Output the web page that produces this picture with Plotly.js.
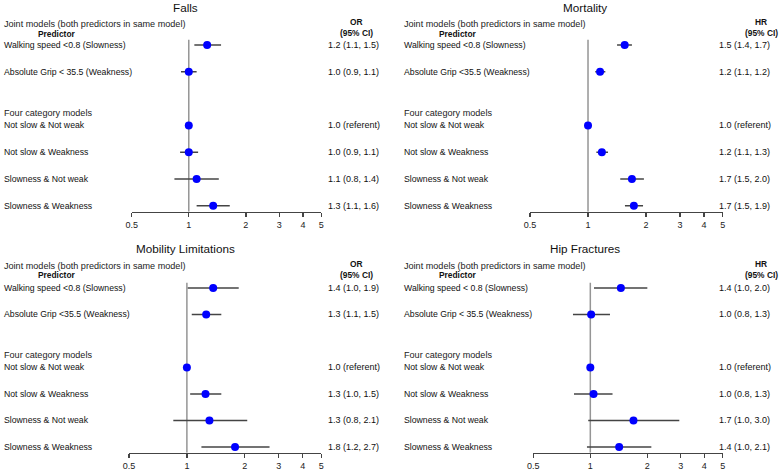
<!DOCTYPE html>
<html>
<head>
<meta charset="utf-8">
<script src="https://cdn.plot.ly/plotly-3.0.1.min.js"></script>
<style>html,body{margin:0;padding:0;background:#fff;}#chart{width:780px;height:473px;}</style>
</head>
<body>
<div id="chart"></div>
<script>
// ---------- data ----------
const fourCategories = ["Not slow & Not weak", "Not slow & Weakness", "Slowness & Not weak", "Slowness & Weakness"];

const fallsJoint = ["Walking speed <0.8 (Slowness)", "Absolute Grip < 35.5 (Weakness)"];
const fallsEst = [1.25, 1.00, 1.00, 1.00, 1.10, 1.345];
const fallsLo  = [1.07, 0.91, 1.00, 0.90, 0.84, 1.10];
const fallsHi  = [1.48, 1.10, 1.00, 1.12, 1.44, 1.645];
const fallsText = ["1.2 (1.1, 1.5)", "1.0 (0.9, 1.1)", "1.0 (referent)", "1.0 (0.9, 1.1)", "1.1 (0.8, 1.4)", "1.3 (1.1, 1.6)"];

const mortJoint = ["Walking speed <0.8 (Slowness)", "Absolute Grip <35.5 (Weakness)"];
const mortEst = [1.55, 1.155, 1.00, 1.18, 1.69, 1.73];
const mortLo  = [1.415, 1.09, 1.00, 1.105, 1.47, 1.555];
const mortHi  = [1.69, 1.23, 1.00, 1.27, 1.95, 1.93];
const mortText = ["1.5 (1.4, 1.7)", "1.2 (1.1, 1.2)", "1.0 (referent)", "1.2 (1.1, 1.3)", "1.7 (1.5, 2.0)", "1.7 (1.5, 1.9)"];

const mobJoint = ["Walking speed <0.8 (Slowness)", "Absolute Grip <35.5 (Weakness)"];
const mobEst = [1.37, 1.26, 1.00, 1.25, 1.31, 1.78];
const mobLo  = [1.01, 1.06, 1.00, 1.04, 0.85, 1.19];
const mobHi  = [1.86, 1.51, 1.00, 1.51, 2.06, 2.69];
const mobText = ["1.4 (1.0, 1.9)", "1.3 (1.1, 1.5)", "1.0 (referent)", "1.3 (1.0, 1.5)", "1.3 (0.8, 2.1)", "1.8 (1.2, 2.7)"];

const hipJoint = ["Walking speed < 0.8 (Slowness)", "Absolute Grip < 35.5 (Weakness)"];
const hipEst = [1.45, 1.01, 1.00, 1.04, 1.69, 1.42];
const hipLo  = [1.046, 0.81, 1.00, 0.82, 0.975, 0.96];
const hipHi  = [2.00, 1.27, 1.00, 1.31, 2.95, 2.10];
const hipText = ["1.4 (1.0, 2.0)", "1.0 (0.8, 1.3)", "1.0 (referent)", "1.0 (0.8, 1.3)", "1.7 (1.0, 3.0)", "1.4 (1.0, 2.1)"];

const tickValues = [0.5, 1, 2, 3, 4, 5];
const tickLabels = ["0.5", "1", "2", "3", "4", "5"];

// ---------- layout helpers ----------
const FONT = "Liberation Sans, Arial, Helvetica, sans-serif";
const W = 780, H = 473;
const px = v => v / W;
const py = v => 1 - v / H;

const panels = [
  {title: "Falls", stat: "OR", joint: fallsJoint, est: fallsEst, lo: fallsLo, hi: fallsHi, txt: fallsText,
   id: "", xdom: [131.7, 321.3], ydom: [211.7, 31.6], left: 2, pred: 57, val: 326, statX: 356, titleX: 185, top: 0},
  {title: "Mortality", stat: "HR", joint: mortJoint, est: mortEst, lo: mortLo, hi: mortHi, txt: mortText,
   id: "2", xdom: [530, 722.7], ydom: [211.7, 31.6], left: 402, pred: 458, val: 717, statX: 761, titleX: 585, top: 0},
  {title: "Mobility Limitations", stat: "OR", joint: mobJoint, est: mobEst, lo: mobLo, hi: mobHi, txt: mobText,
   id: "3", xdom: [129, 321.3], ydom: [452.8, 274.75], left: 2, pred: 57, val: 326, statX: 356, titleX: 185, top: 241.5},
  {title: "Hip Fractures", stat: "HR", joint: hipJoint, est: hipEst, lo: hipLo, hi: hipHi, txt: hipText,
   id: "4", xdom: [533.3, 722.7], ydom: [452.8, 274.75], left: 402, pred: 458, val: 717, statX: 761, titleX: 585, top: 241.5}
];

const data = [];
const layout = {
  width: W, height: H,
  margin: {l: 0, r: 0, t: 0, b: 0},
  paper_bgcolor: "#ffffff", plot_bgcolor: "#ffffff",
  showlegend: false,
  font: {family: FONT, color: "#111"},
  annotations: [], shapes: []
};

panels.forEach(p => {
  const xa = "x" + p.id, ya = "y" + p.id;
  const xkey = "xaxis" + p.id, ykey = "yaxis" + p.id;
  const rows = p.joint.concat(fourCategories);
  const order = [p.joint[0], p.joint[1], " "].concat(fourCategories);

  data.push({
    type: "scatter", mode: "markers",
    x: p.est, y: rows,
    xaxis: xa, yaxis: ya,
    marker: {color: "#0000ff", size: 8},
    error_x: {
      type: "data", symmetric: false,
      array: p.hi.map((h, i) => h - p.est[i]),
      arrayminus: p.lo.map((l, i) => p.est[i] - l),
      color: "#444444", thickness: 1.6, width: 0
    },
    hoverinfo: "skip", cliponaxis: false
  });

  layout[xkey] = {
    type: "log", domain: [px(p.xdom[0]), px(p.xdom[1])],
    range: [Math.log10(0.5), Math.log10(5)], autorange: false,
    anchor: ya, showgrid: false, zeroline: false,
    showline: true, linecolor: "#444", linewidth: 1.5,
    ticks: "outside", ticklen: 4, tickwidth: 1.3, tickcolor: "#444",
    tickmode: "array", tickvals: tickValues, ticktext: tickLabels,
    tickfont: {family: FONT, size: 9, color: "#222"}
  };
  layout[ykey] = {
    type: "category", categoryorder: "array", categoryarray: order,
    domain: [1 - p.ydom[0] / H, 1 - p.ydom[1] / H],
    range: [6.22, -0.5], autorange: false, anchor: xa,
    showgrid: false, zeroline: false, showline: false,
    showticklabels: false, ticks: ""
  };

  // reference line at 1
  layout.shapes.push({
    type: "line", layer: "below", xref: xa, yref: ya,
    x0: 1, x1: 1, y0: -0.2, y1: 6.22,
    line: {color: "#959595", width: 1.5}
  });

  const ann = (o) => layout.annotations.push(Object.assign({showarrow: false, yref: ya, xref: "paper"}, o));
  const annP = (o) => layout.annotations.push(Object.assign({showarrow: false, yref: "paper", xref: "paper"}, o));
  annP({text: p.title, x: px(p.titleX), y: py(p.top + 7.5), xanchor: "center", yanchor: "middle",
       font: {family: FONT, size: 11.7, color: "#111"}});
  annP({text: "Joint models (both predictors in same model)", x: px(p.left), y: py(p.top + 24.3), xanchor: "left", yanchor: "middle",
       font: {family: FONT, size: 9.1, color: "#222"}});
  annP({text: "<b>Predictor</b>", x: px(p.pred), y: py(p.top + 33.5), xanchor: "center", yanchor: "middle",
       font: {family: FONT, size: 8.4, color: "#111"}});
  annP({text: "<b>" + p.stat + "</b>", x: px(p.statX), y: py(p.top + 22), xanchor: "center", yanchor: "middle",
       font: {family: FONT, size: 8.4, color: "#111"}});
  annP({text: "<b>(95% CI)</b>", x: px(p.statX), y: py(p.top + 33), xanchor: "center", yanchor: "middle",
       font: {family: FONT, size: 8.4, color: "#111"}});
  ann({text: "Four category models", x: px(p.left), y: 2.54, xanchor: "left", yanchor: "middle",
       font: {family: FONT, size: 9.1, color: "#222"}});
  rows.forEach((r, i) => {
    ann({text: r, x: px(p.left), y: r, xanchor: "left", yanchor: "middle",
         font: {family: FONT, size: 8.7, color: "#111"}});
    ann({text: p.txt[i], x: px(p.val), y: r, xanchor: "left", yanchor: "middle",
         font: {family: FONT, size: 9, color: "#111"}});
  });
});

Plotly.newPlot("chart", data, layout, {staticPlot: true, displayModeBar: false});
</script>
</body>
</html>
